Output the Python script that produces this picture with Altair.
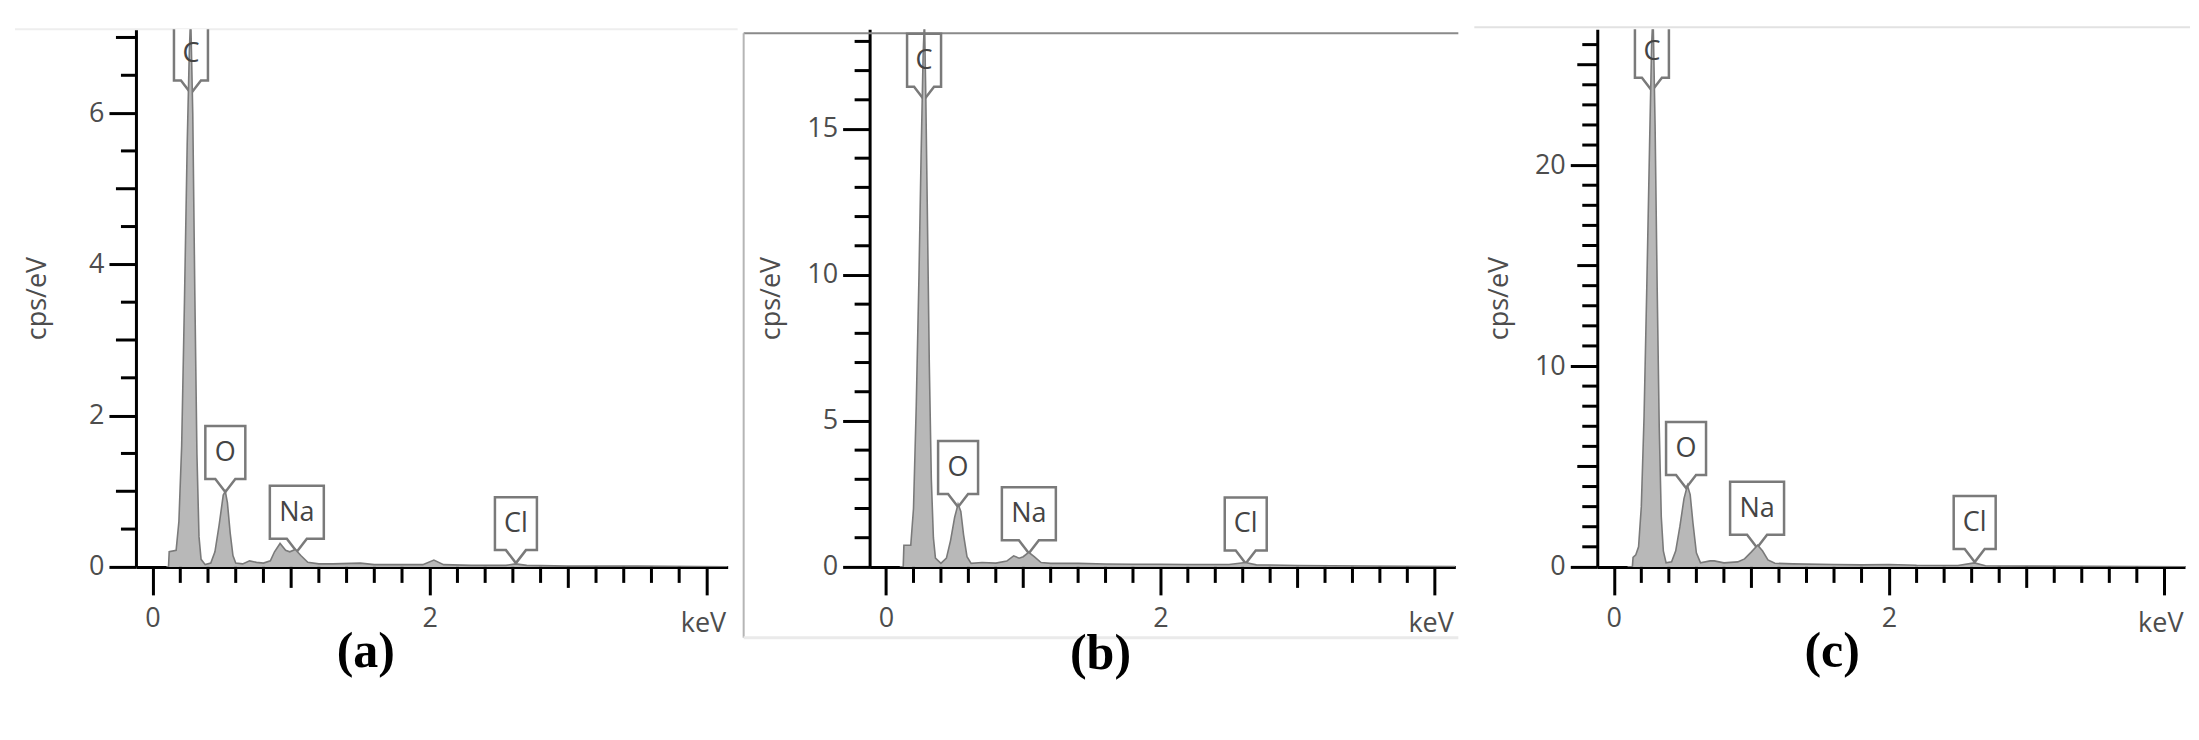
import altair as alt
import pandas as pd

# ---------------- spectra ----------------
kev_a = [0.10, 0.115, 0.12, 0.17, 0.19, 0.21, 0.23, 0.25, 0.265, 0.275,
         0.29, 0.305, 0.32, 0.335, 0.35, 0.38, 0.42, 0.45, 0.48, 0.51,
         0.525, 0.54, 0.56, 0.58, 0.60, 0.65, 0.70, 0.75, 0.80, 0.85,
         0.88, 0.92, 0.96, 0.99, 1.03, 1.07, 1.12, 1.20, 1.30, 1.50,
         1.60, 1.80, 1.95, 2.03, 2.10, 2.30, 2.55, 2.62, 2.70, 3.00,
         3.50, 4.15]
cps_a = [0.0, 0.0, 0.20, 0.22, 0.60, 1.60, 3.50, 5.60, 6.80, 7.30,
         6.00, 3.60, 1.50, 0.40, 0.10, 0.03, 0.05, 0.20, 0.55, 0.95,
         1.00, 0.85, 0.45, 0.15, 0.05, 0.04, 0.08, 0.06, 0.05, 0.08,
         0.20, 0.31, 0.22, 0.20, 0.23, 0.15, 0.06, 0.04, 0.04, 0.05,
         0.03, 0.03, 0.03, 0.09, 0.03, 0.02, 0.02, 0.04, 0.02, 0.01,
         0.01, 0.0]

kev_b = [0.10, 0.125, 0.13, 0.18, 0.20, 0.22, 0.24, 0.255, 0.27, 0.28,
         0.29, 0.30, 0.315, 0.33, 0.345, 0.36, 0.40, 0.44, 0.47, 0.50,
         0.525, 0.545, 0.565, 0.59, 0.62, 0.70, 0.80, 0.88, 0.93, 0.97,
         1.00, 1.04, 1.08, 1.13, 1.20, 1.40, 1.60, 1.80, 2.00, 2.20,
         2.50, 2.62, 2.70, 3.00, 3.50, 4.15]
cps_b = [0.0, 0.0, 0.74, 0.74, 2.0, 5.5, 10.0, 14.0, 17.5, 18.8,
         16.0, 12.5, 7.0, 3.0, 1.0, 0.30, 0.12, 0.30, 0.90, 1.70,
         2.15, 1.90, 1.10, 0.35, 0.12, 0.15, 0.13, 0.20, 0.38, 0.30,
         0.35, 0.50, 0.35, 0.15, 0.12, 0.12, 0.10, 0.09, 0.09, 0.08,
         0.08, 0.15, 0.07, 0.05, 0.03, 0.01]

kev_c = [0.10, 0.135, 0.14, 0.16, 0.18, 0.20, 0.22, 0.24, 0.26, 0.275,
         0.285, 0.30, 0.315, 0.33, 0.345, 0.36, 0.38, 0.42, 0.45, 0.48,
         0.51, 0.535, 0.555, 0.575, 0.60, 0.63, 0.70, 0.73, 0.80, 0.90,
         0.95, 1.00, 1.045, 1.08, 1.12, 1.17, 1.30, 1.60, 1.80, 2.00,
         2.20, 2.50, 2.62, 2.70, 3.00, 3.50, 4.15]
cps_c = [0.0, 0.0, 0.47, 0.60, 1.0, 3.0, 7.5, 14.0, 21.0, 26.0,
         27.6, 22.0, 14.0, 7.0, 2.5, 0.80, 0.20, 0.25, 0.80, 2.0,
         3.4, 4.05, 3.6, 2.2, 0.70, 0.20, 0.30, 0.30, 0.20, 0.25,
         0.40, 0.75, 1.08, 0.80, 0.35, 0.18, 0.15, 0.12, 0.10, 0.12,
         0.08, 0.07, 0.20, 0.06, 0.04, 0.03, 0.01]

# ---------------- element callouts ----------------
elements = ["C", "O", "Na", "Cl"]
energies = [0.277, 0.525, 1.041, 2.622]
tip_a = [6.26, 0.99, 0.20, 0.05]
tip_b = [16.0, 2.05, 0.47, 0.12]
tip_c = [23.7, 3.93, 0.95, 0.24]
box_half = [17, 20, 27, 21]

# ---------------- ticks ----------------
x_major = [0, 2, 4]
x_medium = [1, 3]
x_minor = [0.2, 0.4, 0.6, 0.8, 1.2, 1.4, 1.6, 1.8, 2.2, 2.4, 2.6, 2.8,
           3.2, 3.4, 3.6, 3.8]

ya_major = [0, 2, 4, 6]
ya_medium = [1, 3, 5, 7]
ya_minor = [0.5, 1.5, 2.5, 3.5, 4.5, 5.5, 6.5]

yb_major = [0, 5, 10, 15]
yb_medium = []
yb_minor = [1, 2, 3, 4, 6, 7, 8, 9, 11, 12, 13, 14, 16, 17, 18]

yc_major = [0, 10, 20]
yc_medium = [5, 15, 25]
yc_minor = [1, 2, 3, 4, 6, 7, 8, 9, 11, 12, 13, 14, 16, 17, 18, 19,
            21, 22, 23, 24, 26]

FONT = "Open Sans"
TXT = "#4d4d4d"
H = 538


def callout_path(w):
    return f"M0,0 L-10,-13 L-{w},-13 L-{w},-66 L{w},-66 L{w},-13 L10,-13 Z"


def yticks_layer(vals, length, ys):
    return alt.Chart(pd.DataFrame({"v": vals})).mark_rule(
        color="black", strokeWidth=3).encode(
        y=alt.Y("v:Q", scale=ys), x=alt.value(0), x2=alt.value(-length))


def xticks_layer(vals, length, xs):
    return alt.Chart(pd.DataFrame({"v": vals})).mark_rule(
        color="black", strokeWidth=3).encode(
        x=alt.X("v:Q", scale=xs), y=alt.value(H), y2=alt.value(H + length))


def panel(kev, cps, tips, ymax, ymaj, ymed, ymin, width, caption, dx, deco):
    spec = pd.DataFrame({"kev": kev, "cps": cps})
    lab = pd.DataFrame({
        "el": elements, "e": energies, "tip": tips,
        "path": [callout_path(w) for w in box_half],
    })
    xs = alt.Scale(domain=[-0.12, 4.15], nice=False, zero=False)
    ys = alt.Scale(domain=[0, ymax], nice=False)

    x_axis = alt.Axis(
        values=x_major, format=".0f",
        labelExpr="datum.value == 4 ? '' : datum.label",
        tickSize=28, labelPadding=11,
        title="keV", titleX=width - 2, titleY=65, titleAlign="right",
        titleBaseline="alphabetic", titleFontWeight="normal",
    )
    y_axis = alt.Axis(
        values=ymaj, format=".0f",
        tickSize=27, labelPadding=5,
        title="cps/eV", titleX=-98, titleY=H / 2, titleAngle=-90,
        titleAlign="center", titleBaseline="middle", titleFontWeight="normal",
    )

    base = alt.Chart(spec)
    area = base.mark_area(color="#b8b8b8", clip=True).encode(
        x=alt.X("kev:Q", scale=xs, axis=x_axis),
        y=alt.Y("cps:Q", scale=ys, axis=y_axis),
    )
    line = base.mark_line(color="#7a7a7a", strokeWidth=1.6, clip=True).encode(
        x=alt.X("kev:Q", scale=xs), y=alt.Y("cps:Q", scale=ys))

    labbase = alt.Chart(lab)
    boxes = labbase.mark_point(size=4, filled=True, fill="white", stroke="#7a7a7a",
                               strokeWidth=2.5, opacity=1, clip=True).encode(
        x=alt.X("e:Q", scale=xs), y=alt.Y("tip:Q", scale=ys),
        shape=alt.Shape("path:N", scale=None, legend=None))
    texts = labbase.mark_text(font=FONT, fontSize=27, color="#444444", dy=-39,
                              baseline="middle", align="center", clip=True).encode(
        x=alt.X("e:Q", scale=xs), y=alt.Y("tip:Q", scale=ys), text="el:N")

    ticks = [xticks_layer(x_medium, 21, xs), xticks_layer(x_minor, 16, xs),
             yticks_layer(ymin, 15, ys)]
    if ymed:
        ticks.append(yticks_layer(ymed, 20, ys))

    layers = list(deco) + [boxes, area, line, texts] + ticks
    return alt.layer(*layers).properties(
        width=width, height=H,
        title=alt.TitleParams(caption, orient="bottom", anchor="middle", frame="group",
                              dx=dx, offset=-10, font="Liberation Serif", fontSize=50,
                              fontWeight="bold", color="black"),
    )


def hrule(x1, x2, y, color, w):
    return alt.Chart(pd.DataFrame({"k": [0]})).mark_rule(color=color, strokeWidth=w).encode(
        x=alt.value(x1), x2=alt.value(x2), y=alt.value(y))


def vrule(x, y1, y2, color, w):
    return alt.Chart(pd.DataFrame({"k": [0]})).mark_rule(color=color, strokeWidth=w).encode(
        x=alt.value(x), y=alt.value(y1), y2=alt.value(y2))


deco_a = [hrule(-121, 602, 0, "#eeeeee", 2)]
deco_b = [hrule(-126, 589, 4, "#8a8a8a", 2), vrule(-126, 4, 609, "#b5b5b5", 2),
          hrule(-126, 589, 609, "#eaeaea", 3)]
deco_c = [hrule(-123, 593, -2, "#e2e2e2", 2)]

pa = panel(kev_a, cps_a, tip_a, 7.11, ya_major, ya_medium, ya_minor, 592, "(a)", -66, deco_a)
pb = panel(kev_b, cps_b, tip_b, 18.42, yb_major, yb_medium, yb_minor, 586, "(b)", -62, deco_b)
pc = panel(kev_c, cps_c, tip_c, 26.77, yc_major, yc_medium, yc_minor, 588, "(c)", -59, deco_c)

chart = alt.hconcat(pa, pb, pc, spacing=142, bounds="flush").properties(
    padding={"left": 6, "top": 18, "right": 0, "bottom": 0}
).configure_view(stroke=None).configure_axis(
    grid=False, domainColor="black", domainWidth=3, tickColor="black", tickWidth=3,
    labelColor=TXT, labelFont=FONT, labelFontSize=27,
    titleColor=TXT, titleFont=FONT, titleFontSize=27,
)

chart.save("out.html", embed_options={"renderer": "svg", "actions": False})
